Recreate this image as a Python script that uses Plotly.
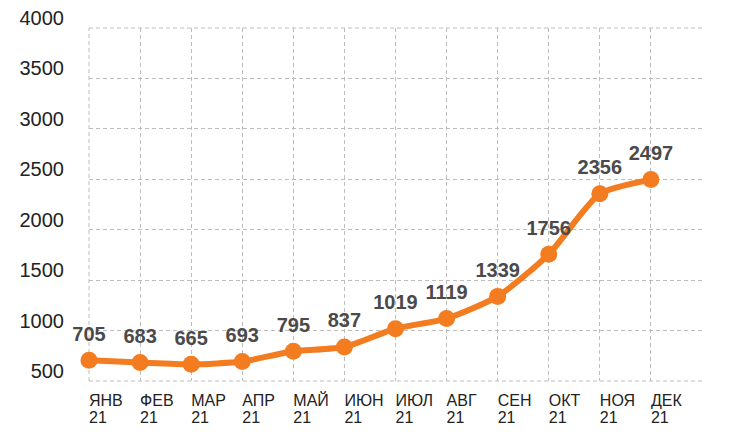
import plotly.graph_objects as go

months = ["ЯНВ", "ФЕВ", "МАР", "АПР", "МАЙ", "ИЮН",
          "ИЮЛ", "АВГ", "СЕН", "ОКТ", "НОЯ", "ДЕК"]
years = ["21"] * 12
values = [705, 683, 665, 693, 795, 837, 1019, 1119, 1339, 1756, 2356, 2497]
y_ticks = [500, 1000, 1500, 2000, 2500, 3000, 3500, 4000]

x_pos = list(range(len(months)))

orange = "#F47C20"
grid_color = "#bdbdbd"
font_family = "Liberation Sans, Arial, sans-serif"
dash = "4px,3px"

fig = go.Figure()
fig.add_trace(go.Scatter(
    x=x_pos, y=values,
    mode="lines+markers",
    line=dict(color=orange, width=6, shape="spline", smoothing=0.6),
    marker=dict(color=orange, size=17),
    cliponaxis=False,
    hoverinfo="x+y",
))
# value labels, pushed a little higher with an invisible bigger marker
fig.add_trace(go.Scatter(
    x=x_pos, y=values,
    mode="markers+text",
    marker=dict(size=22, opacity=0),
    text=[str(v) for v in values],
    textposition="top center",
    textfont=dict(family=font_family, size=20, color="#4a4a4a", weight="bold"),
    cliponaxis=False,
    hoverinfo="skip",
))
# empty trace so the second x axis (year row) gets drawn
fig.add_trace(go.Scatter(x=[], y=[], xaxis="x2", yaxis="y", hoverinfo="skip"))

# dashed frame lines on the left, bottom and top edges
for x0, x1, y0, y1 in [(0, 0, 0, 1), (0, 1, 0, 0), (0, 1, 1, 1)]:
    fig.add_shape(type="line", xref="x domain", yref="y domain",
                  x0=x0, x1=x1, y0=y0, y1=y1,
                  line=dict(color=grid_color, width=1, dash=dash), layer="below")

tick_font = dict(size=16, color="#222")

# page body adds 8px around the figure, so size and margins are shrunk by that
fig.update_layout(
    width=721, height=424,
    margin=dict(l=81, r=27, t=20, b=51),
    plot_bgcolor="white", paper_bgcolor="white",
    showlegend=False,
    font=dict(family=font_family),
    xaxis=dict(
        range=[0, 12], tickvals=x_pos, ticktext=months,
        ticklabelposition="outside right", ticklabelstandoff=8,
        tickfont=tick_font,
        showgrid=True, gridcolor=grid_color, griddash=dash, gridwidth=1,
        zeroline=False, showline=False, automargin=False,
    ),
    xaxis2=dict(
        overlaying="x", anchor="y", side="bottom",
        range=[0, 12], tickvals=x_pos, ticktext=years,
        ticklabelposition="outside right", ticklabelstandoff=25,
        tickfont=tick_font,
        showgrid=False, zeroline=False, showline=False, automargin=False,
    ),
    yaxis=dict(
        range=[500, 4000], tickvals=y_ticks,
        tickfont=dict(size=20, color="#222"),
        ticklabelshift=-10, ticklabelstandoff=24, ticklabeloverflow="allow",
        showgrid=True, gridcolor=grid_color, griddash=dash, gridwidth=1,
        zeroline=False, showline=False, automargin=False,
    ),
)

fig.write_html("out.html")
